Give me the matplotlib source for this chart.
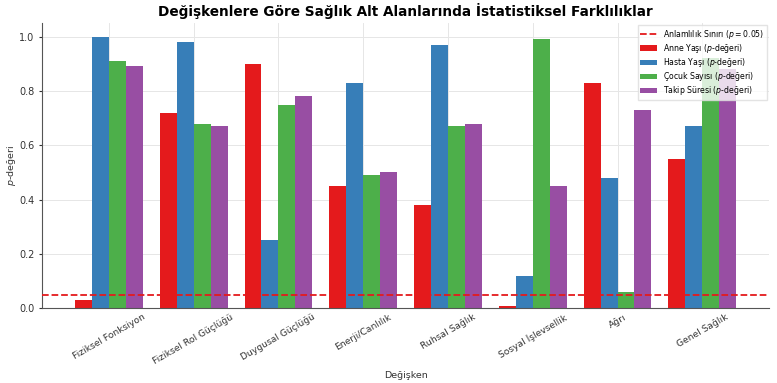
import numpy as np
import matplotlib
matplotlib.use('Agg')
import matplotlib.pyplot as plt

# alt alanlar (x ekseni)
categories = ['Fiziksel Fonksiyon', 'Fiziksel Rol Güçlüğü', 'Duygusal Güçlüğü',
              'Enerji/Canlılık', 'Ruhsal Sağlık', 'Sosyal İşlevsellik',
              'Ağrı', 'Genel Sağlık']

# p-değerleri
anne_yasi = [0.03, 0.72, 0.90, 0.45, 0.38, 0.01, 0.83, 0.55]
hasta_yasi = [1.00, 0.98, 0.25, 0.83, 0.97, 0.12, 0.48, 0.67]
cocuk_sayisi = [0.91, 0.68, 0.75, 0.49, 0.67, 0.99, 0.06, 0.92]
takip_suresi = [0.89, 0.67, 0.78, 0.50, 0.68, 0.45, 0.73, 0.88]

series_labels = ['Anne Yaşı ($p$-değeri)', 'Hasta Yaşı ($p$-değeri)',
                 'Çocuk Sayısı ($p$-değeri)', 'Takip Süresi ($p$-değeri)']
colors = ['#e41a1c', '#377eb8', '#4daf4a', '#984ea3']
alpha_level = 0.05

fig, ax = plt.subplots(figsize=(7.77, 3.83), dpi=100)
fig.subplots_adjust(left=0.054, right=0.99, top=0.94, bottom=0.195)

x = np.arange(len(categories))
width = 0.2

# esik cizgisi once, legend'de ilk sirada olsun
ax.axhline(alpha_level, color='#e41a1c', linestyle='--', linewidth=1.3,
           label='Anlamlılık Sınırı ($p = 0.05$)', zorder=3)

all_series = [anne_yasi, hasta_yasi, cocuk_sayisi, takip_suresi]
for i, vals in enumerate(all_series):
    ax.bar(x + (i - 1.5) * width, vals, width, color=colors[i],
           label=series_labels[i], zorder=2)

ax.set_xticks(x)
ax.set_xticklabels(categories, rotation=30, fontsize=6.6)
ax.tick_params(axis='y', labelsize=7, colors='#333333', length=2)
ax.tick_params(axis='x', colors='#333333', length=0, pad=3)
ax.set_ylabel('$p$-değeri', fontsize=6.8, color='#333333')
ax.yaxis.set_label_coords(-0.033, 0.5)
ax.set_xlabel('Değişken', fontsize=6.8, color='#333333')
ax.set_title('Değişkenlere Göre Sağlık Alt Alanlarında İstatistiksel Farklılıklar',
             fontsize=9.8, fontweight='bold', pad=5)

ax.grid(True, color='#e6e6e6', linewidth=0.7, zorder=0)
ax.set_axisbelow(True)
for s in ['top', 'right']:
    ax.spines[s].set_visible(False)
for s in ['left', 'bottom']:
    ax.spines[s].set_color('#555555')
    ax.spines[s].set_linewidth(0.8)

ax.legend(loc='upper right', fontsize=5.6, framealpha=0.8,
          edgecolor='#dddddd', fancybox=False, borderaxespad=0.3,
          labelspacing=0.15, borderpad=0.3, handlelength=2.2)

fig.savefig('out.png', dpi=100)
